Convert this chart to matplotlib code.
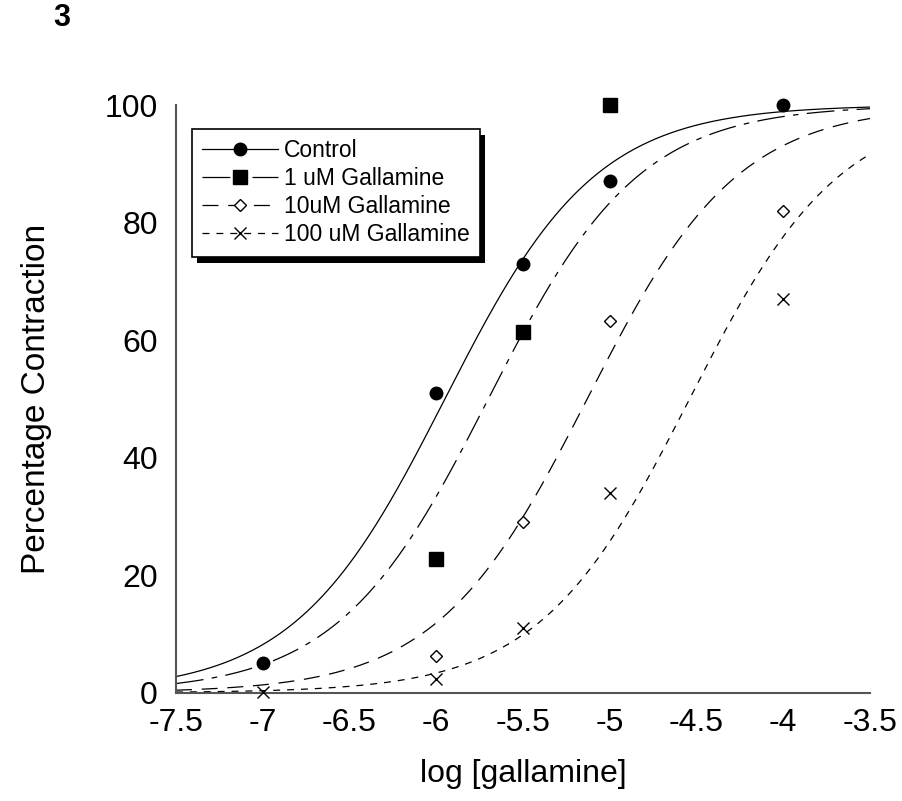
import numpy as np
import matplotlib
matplotlib.use("Agg")
import matplotlib.pyplot as plt
from matplotlib.patches import Rectangle

plt.rcParams['font.family'] = ['Liberation Sans', 'DejaVu Sans']
plt.rcParams['lines.scale_dashes'] = False

# Data.
log_conc = [-7, -6, -5.5, -5, -4]
control = [5, 51, 73, 87, 100]
log_conc_1um = [-6, -5.5, -5]
gal_1um = [22.7, 61.3, 100]
log_conc_10um = [-6, -5.5, -5, -4]
gal_10um = [6.2, 29, 63.3, 82]
log_conc_100um = [-7, -6, -5.5, -5, -4]
gal_100um = [0.2, 2.4, 11, 34, 67]

labels = ["Control", "1 uM Gallamine", "10uM Gallamine", "100 uM Gallamine"]
# Fitted curve parameters (log EC50, Hill slope), estimated from the plotted curves.
log_ec50 = [-5.95, -5.70, -5.13, -4.54]
hill = [1.0, 1.0, 1.0, 1.0]

def hill_curve(x, ec50, n): # Sigmoid dose response, 0-100 %.
	return 100.0/(1.0+10**((ec50-x)*n))

fig = plt.figure(figsize=(9.03, 8.01), dpi=100)
ax = fig.add_axes([0.1949, 0.1352, 0.7686, 0.7337])

xs = np.linspace(-7.5, -3.5, 400)
styles = ['-', (0, (20, 6, 4, 6)), (0, (11.5, 7)), (0, (5, 5))]
xdata = [log_conc, log_conc_1um, log_conc_10um, log_conc_100um]
ydata = [control, gal_1um, gal_10um, gal_100um]
markers = [dict(marker='o', ms=9, mfc='black', mec='black'),
	dict(marker='s', ms=9.5, mfc='black', mec='black'),
	dict(marker='D', ms=6.5, mfc='white', mec='black', mew=1),
	dict(marker='x', ms=9, mec='black', mew=1)]

for i in range(4):
	ax.plot(xs, hill_curve(xs, log_ec50[i], hill[i]), color='black', lw=0.9, ls=styles[i], zorder=2)
	ax.plot(xdata[i], ydata[i], ls='none', zorder=3, clip_on=False, **markers[i])

# Legend handles: line style plus marker.
handles = []
for i in range(4):
	h, = ax.plot([], [], color='black', lw=0.9, ls=styles[i], **markers[i])
	handles.append(h)

leg = ax.legend(handles, labels, loc='upper left', bbox_to_anchor=(0.2126, 0.839),
	bbox_transform=fig.transFigure, fontsize=16.5, frameon=True, fancybox=False,
	edgecolor='black', framealpha=1, handlelength=3.3, handletextpad=0.25, labelspacing=0.22,
	borderpad=0.45, borderaxespad=0)
leg.get_frame().set_linewidth(1.2)

ax.set_xlim(-7.5, -3.5)
ax.set_ylim(0, 100)
ax.set_xticks(np.arange(-7.5, -3.49, 0.5))
ax.set_xticklabels(["-7.5", "-7", "-6.5", "-6", "-5.5", "-5", "-4.5", "-4", "-3.5"])
ax.set_yticks([0, 20, 40, 60, 80, 100])
ax.tick_params(length=0, labelsize=23)
ax.tick_params(axis='x', pad=11)
ax.tick_params(axis='y', pad=13)
for s in ['top', 'right']:
	ax.spines[s].set_visible(False)
for s in ['left', 'bottom']:
	ax.spines[s].set_color('#555555')
	ax.spines[s].set_linewidth(1.5)

ax.set_xlabel("log [gallamine]", fontsize=23, labelpad=15)
ax.set_ylabel("Percentage Contraction", fontsize=24, labelpad=38)
fig.text(62/903, 1-18/801, "3", fontsize=22, fontweight='bold', ha='center', va='center')

# Solid black drop shadow behind the legend box.
fig.canvas.draw()
bb = leg.get_frame().get_window_extent()
ax.add_patch(Rectangle((bb.x0+5, bb.y0-6), bb.width, bb.height, transform=None,
	facecolor='black', edgecolor='none', zorder=4.9, clip_on=False))

fig.savefig("out.png", dpi=100)
